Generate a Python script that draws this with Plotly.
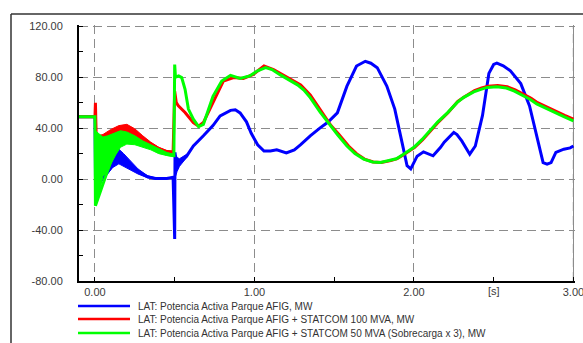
import plotly.graph_objects as go

# ---------------- data ----------------
series_names = [
    "LAT: Potencia Activa Parque AFIG, MW",
    "LAT: Potencia Activa Parque AFIG + STATCOM 100 MVA, MW",
    "LAT: Potencia Activa Parque AFIG + STATCOM 50 MVA (Sobrecarga x 3), MW",
]
series_colors = ["#0000FF", "#FF0000", "#00FF00"]

x_tick_vals = [0, 1, 2, 3]
x_tick_text = ["0.00", "1.00", "2.00", "3.00"]
y_tick_vals = [-80, -40, 0, 40, 80, 120]
y_tick_text = ["-80.00", "-40.00", "0.00", "40.00", "80.00", "120.00"]
x_unit_label = "[s]"
x_unit_pos = 2.5

# Blue: AFIG
t_blue = [-0.1, 0.0, 0.004, 0.03, 0.08, 0.13, 0.16, 0.21, 0.27, 0.33, 0.38, 0.45, 0.49,
          0.5, 0.502, 0.51, 0.53, 0.575, 0.617, 0.68, 0.74, 0.785, 0.85, 0.88, 0.91, 0.95, 0.98,
          1.02, 1.06, 1.1, 1.14, 1.2, 1.25, 1.29, 1.35, 1.41, 1.46, 1.52, 1.58, 1.64, 1.695,
          1.73, 1.77, 1.83, 1.88, 1.925, 1.957, 1.98, 2.02, 2.06, 2.09, 2.12, 2.166, 2.19,
          2.25, 2.27, 2.3, 2.35, 2.385, 2.43, 2.47, 2.5, 2.52, 2.56, 2.605, 2.67, 2.725,
          2.775, 2.81, 2.835, 2.86, 2.89, 2.94, 2.98, 3.0]
p_blue = [49, 49, -10, -2, 6, 14, 17.5, 12, 6, 1.8, 0.5, 0.5, 1.5,
          -47, 21, 8, 13, 18, 26, 34, 42, 49.6, 54, 54.5, 52, 45, 36,
          27, 22, 22, 23, 20.5, 23, 27, 34, 40, 44.6, 52, 73, 88.8, 92.5,
          91, 87.5, 73, 55, 29, 10.5, 8, 18, 21.4, 20, 18.3, 24.8, 29,
          36.6, 35, 30, 19.6, 26, 50, 83, 90, 91, 89, 85, 75, 57.5,
          31.4, 13, 11.8, 13, 21, 23.5, 24.5, 26]
blue_band_t = [0.005, 0.03, 0.05, 0.08, 0.11, 0.15, 0.18, 0.21, 0.27, 0.33, 0.38]
blue_band_lo = [-10, -4, -1, 4, 9, 12, 10, 8, 4, 1, 0]
blue_band_hi = [14, 13, 16, 19, 21, 23.5, 20, 16, 8, 2.6, 1]
blue_band2_t = [0.5, 0.515, 0.53, 0.555, 0.575]
blue_band2_lo = [0, 6, 10, 14, 17]
blue_band2_hi = [21, 17, 16, 18, 19.5]

# Red: AFIG + STATCOM 100 MVA
t_red = [-0.1, 0.0, 0.003, 0.008, 0.05, 0.1, 0.15, 0.2, 0.25, 0.3, 0.35, 0.4, 0.45, 0.49,
         0.5, 0.51, 0.523, 0.565, 0.617, 0.65, 0.68, 0.74, 0.805, 0.87, 0.93, 0.99, 1.06,
         1.12, 1.2, 1.29, 1.35, 1.41, 1.48, 1.53, 1.59, 1.64, 1.69, 1.745, 1.795, 1.855,
         1.895, 1.94, 2.005, 2.055, 2.105, 2.155, 2.215, 2.275, 2.315, 2.38, 2.425, 2.465,
         2.525, 2.585, 2.635, 2.685, 2.735, 2.775, 2.84, 2.905, 2.945, 3.0]
p_red = [49, 49, 60, 33, 33, 36, 39, 40, 37, 32, 27.5, 24, 21.5, 21,
         69, 60, 57.5, 52.3, 44.4, 41.5, 44.4, 60, 77, 79.7, 79, 82, 88.8,
         86, 80.5, 74, 66, 55, 42, 35, 26, 20, 15.7, 13.5, 13, 14.5,
         16, 19.6, 25, 31, 38, 45, 52.3, 61, 64.5, 69.5, 71.5, 73,
         73.5, 72.5, 70, 66.5, 63.5, 60, 56, 52, 50, 47]
red_band_t = [0.01, 0.05, 0.1, 0.15, 0.2, 0.25, 0.3, 0.35, 0.4, 0.45, 0.49]
red_band_lo = [30, 31, 33, 35, 36, 34, 30, 26, 23, 21, 20.5]
red_band_hi = [34, 35, 39, 42, 43, 39.5, 34, 29, 25, 22.5, 22]

# Green: AFIG + STATCOM 50 MVA (x3)
t_green = [-0.1, 0.0, 0.003, 0.15, 0.2, 0.25, 0.3, 0.35, 0.4, 0.45, 0.495,
           0.5, 0.505, 0.525, 0.544, 0.565, 0.586, 0.617, 0.65, 0.68, 0.74, 0.795,
           0.85, 0.91, 0.97, 1.02, 1.07, 1.11, 1.16, 1.21, 1.27, 1.31, 1.35, 1.41, 1.475,
           1.52, 1.58, 1.63, 1.685, 1.74, 1.79, 1.85, 1.89, 1.935, 2.0, 2.05, 2.1, 2.15,
           2.21, 2.27, 2.31, 2.375, 2.42, 2.46, 2.52, 2.58, 2.63, 2.68, 2.73, 2.77, 2.835,
           2.9, 2.94, 3.0]
p_green = [49, 49, -21, 32, 32.5, 30.5, 27.5, 25, 22, 19.5, 18.5,
           90, 80, 81, 79.7, 70.5, 55, 47, 41.3, 43, 65, 77,
           81.5, 79, 81, 85, 87.5, 86, 82, 78.5, 74, 70, 64, 53, 42,
           35, 26, 20, 15.7, 13.5, 13, 14.5, 16, 19.6, 25, 31, 38, 45,
           52, 60, 64, 68.5, 70.5, 72, 72.5, 71.5, 69, 65.5, 62.5, 59, 55,
           51, 49, 45.7]
green_band_t = [0.003, 0.02, 0.035, 0.05, 0.08, 0.10, 0.13, 0.16, 0.20, 0.25, 0.30, 0.35,
                0.40, 0.45, 0.495]
green_band_lo = [-21, -15, -6, 2, 7, 12, 19, 25, 27.5, 27, 25, 23, 20, 18.5, 17.5]
green_band_hi = [38, 36, 34, 33, 34, 35, 37, 38, 37, 34, 30, 27, 24, 21, 19.5]

# ---------------- figure ----------------
fig = go.Figure()


def add_band(t, lo, hi, color):
    fig.add_trace(go.Scatter(
        x=list(t) + list(t)[::-1], y=list(hi) + list(lo)[::-1],
        fill="toself", fillcolor=color, mode="lines",
        line=dict(color=color, width=1), showlegend=False, hoverinfo="skip"))


add_band(blue_band_t, blue_band_lo, blue_band_hi, series_colors[0])
add_band(blue_band2_t, blue_band2_lo, blue_band2_hi, series_colors[0])
fig.add_trace(go.Scatter(x=t_blue, y=p_blue, mode="lines", name=series_names[0],
                         line=dict(color=series_colors[0], width=3), showlegend=False))
add_band(red_band_t, red_band_lo, red_band_hi, series_colors[1])
fig.add_trace(go.Scatter(x=t_red, y=p_red, mode="lines", name=series_names[1],
                         line=dict(color=series_colors[1], width=3), showlegend=False))
add_band(green_band_t, green_band_lo, green_band_hi, series_colors[2])
fig.add_trace(go.Scatter(x=t_green, y=p_green, mode="lines", name=series_names[2],
                         line=dict(color=series_colors[2], width=3), showlegend=False))

L, R, T, B = 79, 8, 25, 62
W, H = 583, 343
pw, ph = W - L - R, H - T - B


def px(xp):
    return (xp - L) / pw


def py(yp):
    return (H - B - yp) / ph


font_main = dict(family="Liberation Sans, Arial, sans-serif", size=11, color="#3a3a3a")
grid_color = "#8c8c8c"

shapes = [
    # outer frame (top and left edges)
    dict(type="line", xref="paper", yref="paper", x0=px(11), x1=px(W + 5), y0=py(14), y1=py(14),
         line=dict(color="#333333", width=1.5)),
    dict(type="line", xref="paper", yref="paper", x0=px(11), x1=px(11), y0=py(14), y1=py(H + 5),
         line=dict(color="#333333", width=1.5)),
    # right-hand dashed border at the last x tick
    dict(type="line", xref="x", yref="paper", x0=x_tick_vals[-1], x1=x_tick_vals[-1], y0=0, y1=py(27),
         line=dict(color=grid_color, width=1.2, dash="9px,5px"), layer="below"),
]
annotations = [
    dict(text=x_unit_label, x=x_unit_pos, xref="x", y=py(291), yref="paper",
         showarrow=False, xanchor="center", yanchor="middle", font=font_main),
]
legend_y = [306, 319, 333]
for name, col, yy in zip(series_names, series_colors, legend_y):
    shapes.append(dict(type="line", xref="paper", yref="paper", x0=px(78), x1=px(130),
                       y0=py(yy), y1=py(yy), line=dict(color=col, width=2.5)))
    annotations.append(dict(text=name, x=px(136), y=py(yy), xref="paper", yref="paper",
                            showarrow=False, xanchor="left", yanchor="middle",
                            font=dict(family="Liberation Sans, Arial, sans-serif",
                                      size=10, color="#333333")))

fig.update_layout(
    width=W, height=H, margin=dict(l=L, r=R, t=T, b=B, pad=0, autoexpand=False),
    plot_bgcolor="white", paper_bgcolor="white",
    showlegend=False, font=font_main,
    shapes=shapes, annotations=annotations,
)
fig.update_xaxes(
    range=[-0.1, 3.01], tickvals=x_tick_vals, ticktext=x_tick_text,
    showgrid=True, gridcolor=grid_color, gridwidth=1.2, griddash="9px,5px",
    zeroline=False, showline=True, linecolor="black", linewidth=2,
    ticks="", minor=dict(dtick=0.5, ticks="inside", ticklen=4, tickcolor="black", showgrid=False),
    tickfont=font_main, ticklabeloverflow="allow", automargin=False,
)
fig.update_yaxes(
    range=[-80, 121], tickvals=y_tick_vals, ticktext=y_tick_text,
    showgrid=True, gridcolor=grid_color, gridwidth=1.2, griddash="9px,5px",
    zeroline=False, showline=True, linecolor="black", linewidth=2,
    ticks="", minor=dict(dtick=20, ticks="inside", ticklen=4, tickcolor="black", showgrid=False),
    tickfont=font_main, ticklabelstandoff=12, automargin=False,
)

fig.write_html("out.html")
